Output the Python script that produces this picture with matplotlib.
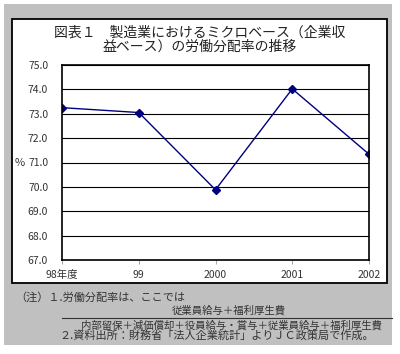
import matplotlib.pyplot as plt
from matplotlib.patches import Rectangle

plt.rcParams['font.family'] = ['Noto Sans CJK JP', 'DejaVu Sans']

# データ
years = ['98年度', '99', '2000', '2001', '2002']
ratio = [73.25, 73.05, 69.88, 74.02, 71.34]
yticks = [67.0, 68.0, 69.0, 70.0, 71.0, 72.0, 73.0, 74.0, 75.0]

W, H = 400, 354
fig = plt.figure(figsize=(4.0, 3.54), dpi=100)
fig.patch.set_facecolor('white')


def fx(px):
    return px / W


def fy(py):
    return 1 - py / H


# 背景（灰色の枠と白いチャートエリア）
fig.patches.append(Rectangle((fx(4), fy(345)), fx(388), 341 / H, transform=fig.transFigure,
                             facecolor='#c0c0c0', edgecolor='none', zorder=0))
fig.patches.append(Rectangle((fx(12), fy(283)), fx(375), 264 / H, transform=fig.transFigure,
                             facecolor='white', edgecolor='black', linewidth=1.3, zorder=1))

ax = fig.add_axes([fx(62), fy(260), fx(307), 195 / H])
ax.set_zorder(2)
x = list(range(len(years)))
ax.plot(x, ratio, color='#000080', linewidth=1.0, marker='D', markersize=4,
        markerfacecolor='#000080', markeredgecolor='#000080')
ax.set_xlim(0, len(years) - 1)
ax.set_ylim(67, 75)
ax.set_yticks(yticks)
ax.set_yticklabels(['%.1f' % v for v in yticks], fontsize=7.5, color='#333333')
ax.set_xticks(x)
ax.set_xticklabels(years, fontsize=7.5, color='#333333')
ax.tick_params(axis='y', length=0, pad=10)
ax.tick_params(axis='x', length=3, color='#aaaaaa', pad=4)
ax.grid(axis='y', color='black', linewidth=0.8)
for s in ax.spines.values():
    s.set_color('black')
    s.set_linewidth(1.2)
ax.text(-0.155, 71.0, '%', transform=ax.get_yaxis_transform(), fontsize=8,
        ha='left', va='center', color='#333333')

# タイトル
fig.text(0.5, fy(33), '図表１　製造業におけるミクロベース（企業収', ha='center', va='center',
         fontsize=10, color='#222222')
fig.text(0.5, fy(47), '益ベース）の労働分配率の推移', ha='center', va='center',
         fontsize=10, color='#222222')

# 注記
fig.text(fx(15), fy(297), '（注）１.労働分配率は、ここでは', ha='left', va='center', fontsize=8,
         color='#333333')
fig.text(fx(229), fy(310), '従業員給与＋福利厚生費', ha='center', va='center', fontsize=7.5,
         color='#333333')
fig.add_artist(plt.Line2D([fx(62), fx(392)], [fy(317.5), fy(317.5)], transform=fig.transFigure,
                          color='#333333', linewidth=0.8))
fig.text(fx(231), fy(325), '内部留保＋減価償却＋役員給与・賞与＋従業員給与＋福利厚生費',
         ha='center', va='center', fontsize=7.5, color='#333333')
fig.text(fx(217), fy(336), '２.資料出所：財務省「法人企業統計」よりＪＣ政策局で作成。',
         ha='center', va='center', fontsize=8, color='#333333')

fig.savefig('out.png', dpi=100)
